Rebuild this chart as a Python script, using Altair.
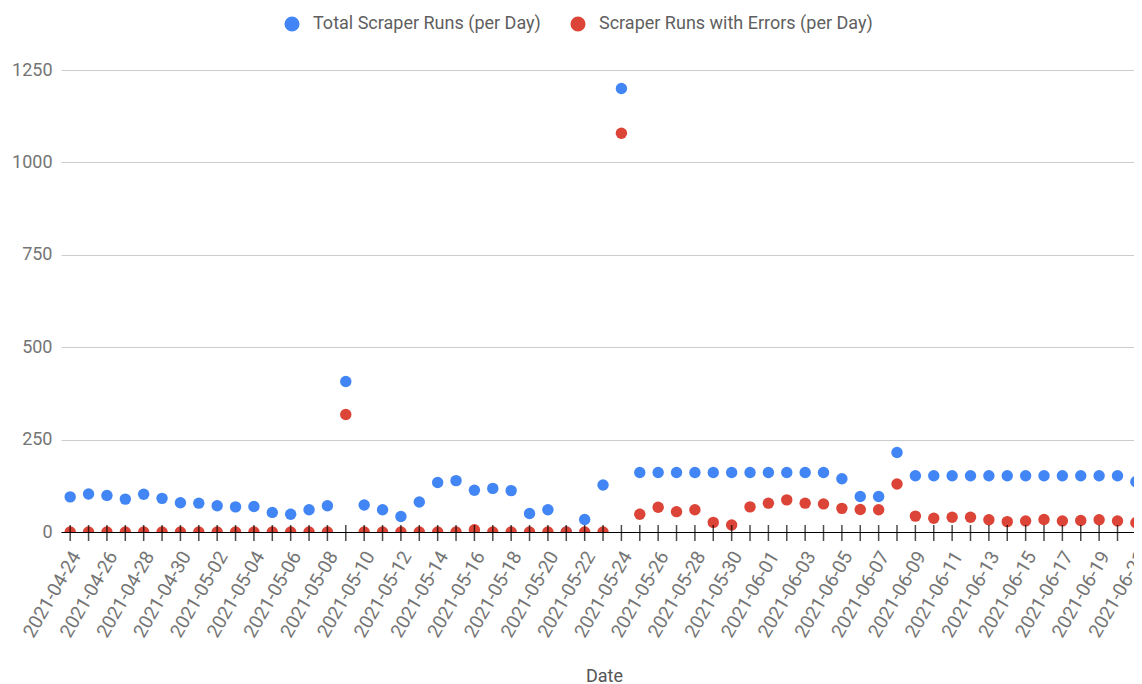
import altair as alt
import pandas as pd

dates = [d.strftime("%Y-%m-%d") for d in pd.date_range("2021-04-24", "2021-06-21", freq="D")]

total_runs = [
    95, 103, 99, 89, 102, 91, 79,
    78, 71, 68, 69, 53, 48, 60, 71, 407, 73, 60, 42, 81, 134, 139, 113, 118, 112,
    50, 60, 0, 34, 127, 1200, 161, 161, 161, 161, 161, 161, 161,
    161, 161, 161, 161, 144, 96, 96, 215, 152, 152, 152, 152, 152, 152, 152, 152,
    152, 152, 152, 152, 136,
]
error_runs = [
    0, 0, 0, 0, 0, 0, 0,
    0, 0, 0, 0, 0, 0, 0, 0, 318, 0, 0, 0, 0, 0, 0, 6, 0, 0,
    0, 0, 0, 0, 0, 1079, 48, 67, 55, 60, 26, 19, 68,
    78, 87, 78, 76, 64, 61, 60, 130, 43, 37, 40, 40, 33, 28, 30, 34,
    30, 31, 33, 30, 25,
]

series_names = ["Total Scraper Runs (per Day)", "Scraper Runs with Errors (per Day)"]
series_colors = ["#4285f4", "#db4437"]
tick_label_dates = dates[::2]
y_ticks = [0, 250, 500, 750, 1000, 1250]

df = pd.DataFrame({
    "date": dates + dates,
    "value": total_runs + error_runs,
    "series": [series_names[0]] * len(dates) + [series_names[1]] * len(dates),
})
ticks_df = pd.DataFrame({"date": dates})
labels_df = pd.DataFrame({"date": tick_label_dates, "label": tick_label_dates})


def dt(s, h=0, m=0):
    y, mo, d = map(int, s.split("-"))
    return alt.DateTime(year=y, month=mo, date=d, hours=h, minutes=m, utc=True)


x_scale = alt.Scale(type="utc", domain=[dt("2021-04-23", 12), dt("2021-06-20", 21, 33)], padding=0)
y_scale = alt.Scale(domain=[0, 1250], nice=False, zero=True, padding=0)

x_axis = alt.Axis(
    values=[dt(s) for s in tick_label_dates], labels=False,
    tickSize=0, domainColor="#000000", domainWidth=1, grid=False,
    title="Date", titleFont="Roboto", titleFontSize=18, titleColor="#555555",
    titleFontWeight="normal", titleX=543, titleAlign="center",
    titleY=149, titleBaseline="alphabetic", zindex=1,
)
y_axis = alt.Axis(
    values=y_ticks, format="d", tickSize=0, domain=False, labelPadding=9,
    gridColor="#cccccc", labelFont="Roboto", labelFontSize=18, labelColor="#757575",
)

legend = alt.Legend(
    title=None, orient="none", legendX=222, legendY=-55, direction="horizontal",
    symbolType="circle", symbolSize=227, symbolOpacity=1, symbolStrokeWidth=0,
    labelFont="Roboto", labelFontSize=18, labelColor="#5f5f5f",
    labelOffset=12, columnPadding=28, padding=0, labelLimit=500,
)

points = alt.Chart(df).mark_circle(opacity=1, size=130, clip=True).encode(
    x=alt.X("date:T", scale=x_scale, axis=x_axis),
    y=alt.Y("value:Q", scale=y_scale, axis=y_axis, title=None),
    color=alt.Color("series:N", scale=alt.Scale(domain=series_names, range=series_colors), legend=legend),
)

ticks = alt.Chart(ticks_df).mark_tick(orient="vertical", size=16, thickness=1.5, yOffset=1, color="#000000").encode(
    x=alt.X("date:T", scale=x_scale, axis=x_axis),
    y=alt.Y(datum=0, scale=y_scale, axis=y_axis, title=None),
)

date_labels = alt.Chart(labels_df).mark_text(
    angle=300, align="right", baseline="middle", xOffset=6, yOffset=21,
    font="Roboto", fontSize=19, color="#757575",
).encode(
    x=alt.X("date:T", scale=x_scale, axis=x_axis),
    y=alt.Y(datum=0, scale=y_scale, axis=y_axis, title=None),
    text=alt.Text("label:N"),
)

chart = alt.layer(points, ticks, date_labels).properties(
    width=1073, height=462,
    padding={"left": 53, "top": 62, "right": 0, "bottom": 152},
    autosize=alt.AutoSizeParams(type="none"),
    background="white",
).configure_view(stroke=None)

chart.save("out.html", embed_options={"renderer": "svg", "actions": False})
